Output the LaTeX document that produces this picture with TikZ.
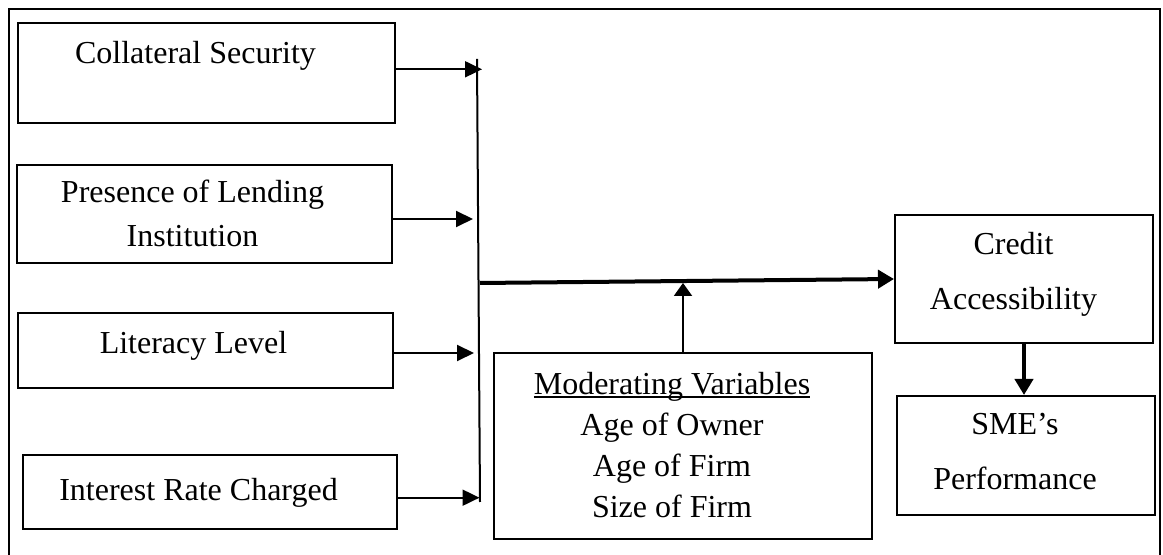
\documentclass[tikz,border=0pt]{standalone}
\usepackage{fontspec}
\setmainfont{Liberation Serif}
\usetikzlibrary{positioning,arrows.meta,calc}
\newcommand{\ulword}[1]{\setbox0\hbox{#1}\rlap{\rule[-1.6pt]{\wd0}{0.6pt}}\box0}

\begin{document}
\begin{tikzpicture}[
  x=0.5pt, y=-0.5pt,
  font=\fontsize{16}{20.6}\selectfont,
  box/.style={draw, line width=1pt, inner sep=0pt},
  txt/.style={anchor=base, inner sep=0pt, align=center},
  frame/.style={line width=1pt},
  arr/.style={-{Triangle[length=8.5pt,width=8pt]}, line width=1pt},
  modarr/.style={-{Triangle[length=6.5pt,width=9pt]}, line width=1pt},
  thickarr/.style={-{Triangle[length=8pt,width=9pt]}, line width=2pt},
]
\useasboundingbox (0,0) rectangle (1163,555);
\draw[frame] (9,556) -- (9,9) -- (1160,9) -- (1160,556);

% independent variables
\node[box, minimum width=188.5pt, minimum height=50pt] (cs) at (206.5,73) {};
\node[box, minimum width=187.5pt, minimum height=49pt] (pl) at (204.5,214) {};
\node[box, minimum width=187.5pt, minimum height=37.5pt] (ll) at (205.5,350.5) {};
\node[box, minimum width=187pt, minimum height=37pt] (ir) at (210,492) {};
\node[txt] (cstxt) at (195.5,64) {Collateral Security};
\node[txt, font=\fontsize{16}{22}\selectfont] (pltxt) at (192.5,247) {Presence of Lending\\Institution};
\node[txt] (lltxt) at (193.5,354) {Literacy Level};
\node[txt] (irtxt) at (198.5,501) {Interest Rate Charged};

% moderator, dependent and outcome
\node[box, minimum width=189pt, minimum height=93pt] (mv) at (683,446) {};
\node[txt] (mvtxt) at (672,518) {\ulword{Moderating Variables}\\Age of Owner\\Age of Firm\\Size of Firm};
\node[box, minimum width=129pt, minimum height=64pt] (ca) at (1024,279) {};
\node[txt, font=\fontsize{16}{27.5}\selectfont] (catxt) at (1013.5,310) {Credit\\Accessibility};
\node[box, minimum width=129pt, minimum height=59.5pt] (sp) at (1026,455.5) {};
\node[txt, font=\fontsize{16}{27.5}\selectfont] (sptxt) at (1015,490) {SME's\\Performance};

\coordinate (vtop) at (477,59);
\coordinate (vbot) at (480,502);
\coordinate (t1) at (482,69.3);
\coordinate (t2) at (473,219);
\coordinate (t3) at (474,353);
\coordinate (t4) at (479.5,497.7);
\coordinate (jn) at (480,283);
\coordinate (mtip) at (683,283);

\draw[line width=1pt] (vtop) -- (vbot);
\draw[arr] (cs.east |- t1) -- (t1);
\draw[arr] (pl.east |- t2) -- (t2);
\draw[arr] (ll.east |- t3) -- (t3);
\draw[arr] (ir.east |- t4) -- (t4);
\draw[thickarr] (jn) -- (ca.west);
\draw[modarr] (mv.north) -- (mtip);
\draw[thickarr] (ca.south) -- (ca.south |- sp.north);
\end{tikzpicture}
\end{document}
